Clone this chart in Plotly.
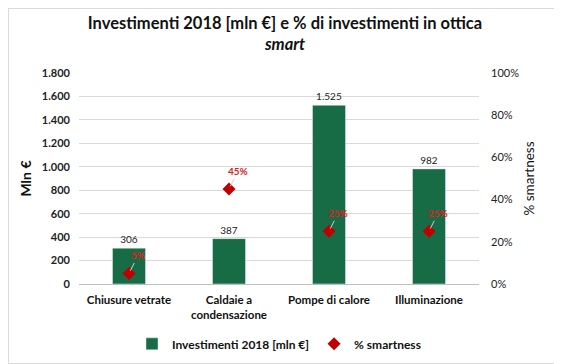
import plotly.graph_objects as go

categories = ["Chiusure vetrate", "Caldaie a<br>condensazione", "Pompe di calore", "Illuminazione"]
investimenti = [306, 387, 1525, 982]
smartness = [0.05, 0.45, 0.25, 0.25]
smart_labels = ["5%", "45%", "25%", "25%"]

FONT = "Lato"
GREEN = "#176B45"
RED = "#C00000"

fig = go.Figure()
fig.add_trace(go.Bar(
    x=categories, y=investimenti, name="Investimenti 2018 [mln €]",
    marker_color=GREEN, width=0.33,
    texttemplate="%{y:,}", textposition="outside",
    textfont=dict(family=FONT, size=10, color="#222"),
    cliponaxis=False,
))
fig.add_trace(go.Scatter(
    x=categories, y=smartness, name="% smartness", yaxis="y2", mode="markers",
    marker=dict(symbol="diamond", size=10, color=RED),
))

for c, v, lab in zip(categories, smartness, smart_labels):
    fig.add_annotation(
        x=c, y=v, xref="x", yref="y2", text="<b>" + lab + "</b>",
        showarrow=True, arrowhead=0, arrowwidth=1, arrowcolor="#d0d0d0",
        ax=9, ay=-18, standoff=3,
        font=dict(family=FONT, size=10, color="#E02020"),
    )

# page has an 8px body margin: figure is 554x356, placed at (8, 8)
W, H = 554, 356
ML, MR, MT, MB = 71, 83, 65, 80
pw, ph = W - ML - MR, H - MT - MB
fig.add_shape(type="rect", xref="paper", yref="paper",
              x0=(0.5 - ML) / pw, x1=(W - 0.5 - ML) / pw,
              y0=-(MB - 0.5) / ph, y1=(H - MB - 0.5) / ph,
              line=dict(color="#d9d9d9", width=1), fillcolor="rgba(0,0,0,0)", layer="below")

fig.update_layout(
    width=W, height=H,
    margin=dict(l=ML, r=MR, t=MT, b=MB, autoexpand=False),
    paper_bgcolor="white", plot_bgcolor="white",
    separators=",.",
    font=dict(family=FONT, size=11, color="#222"),
    title=dict(
        text="<b>Investimenti 2018 [mln €] e % di investimenti in ottica<br><i>smart</i></b>",
        x=0.5, xanchor="center", y=0.942, yanchor="middle",
        font=dict(family=FONT, size=16.5, color="#111"),
    ),
    xaxis=dict(
        showgrid=False, showline=True, linecolor="#bfbfbf", linewidth=1, automargin=False,
        ticks="", ticklabelstandoff=5,
        tickfont=dict(family=FONT, size=11.5, color="#111", weight="bold"),
    ),
    yaxis=dict(
        range=[0, 1800], dtick=200, tickformat=",", automargin=False,
        showgrid=True, gridcolor="#d9d9d9", zeroline=False,
        tickfont=dict(family=FONT, size=11, color="#222", weight="bold"),
        title=dict(text="<b>Mln €</b>", font=dict(family=FONT, size=14, color="#111"), standoff=6),
        ticklabelstandoff=8,
    ),
    yaxis2=dict(
        overlaying="y", side="right", range=[0, 1], dtick=0.2, tickformat=".0%",
        showgrid=False, zeroline=False, automargin=False,
        tickfont=dict(family=FONT, size=11, color="#222"),
        title=dict(text="% smartness", font=dict(family=FONT, size=13.5, color="#111"), standoff=6),
        ticklabelstandoff=11,
    ),
    legend=dict(
        orientation="h", x=0.5, xanchor="center", y=-0.215, yanchor="top",
        font=dict(family=FONT, size=12, color="#111", weight="bold"),
        itemwidth=30, traceorder="normal",
    ),
    showlegend=True,
)

fig.write_html("out.html")
